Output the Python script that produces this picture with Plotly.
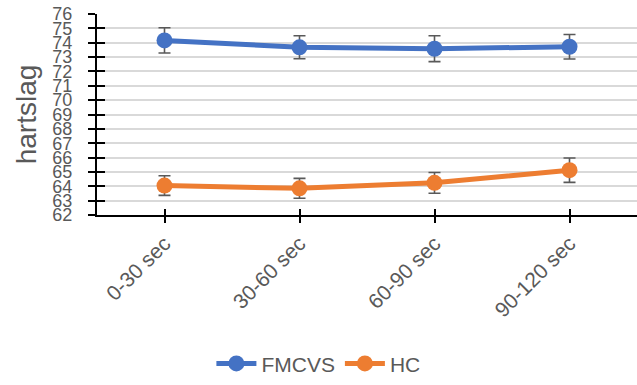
import plotly.graph_objects as go

categories = ["0-30 sec", "30-60 sec", "60-90 sec", "90-120 sec"]
fmcvs = [74.16, 73.68, 73.58, 73.72]
fmcvs_err = [0.88, 0.80, 0.90, 0.85]
hc = [64.05, 63.86, 64.24, 65.12]
hc_err = [0.68, 0.69, 0.72, 0.85]
y_ticks = list(range(62, 77))

BLUE = "#4472C4"
ORANGE = "#ED7D31"
GRAY = "#595959"
FONT = "Liberation Sans"

fig = go.Figure()

for name, vals, errs, col in [("FMCVS", fmcvs, fmcvs_err, BLUE), ("HC", hc, hc_err, ORANGE)]:
    fig.add_trace(go.Scatter(
        x=categories, y=vals, name=name, mode="lines+markers",
        line=dict(color=col, width=5),
        marker=dict(color=col, size=16),
        error_y=dict(type="data", array=errs, visible=True, color=GRAY, thickness=1.6, width=6),
    ))

# invisible trace for the overlay axes (inner half of crossing ticks)
fig.add_trace(go.Scatter(x=categories, y=fmcvs, xaxis="x2", yaxis="y2",
                         mode="markers", marker=dict(opacity=0), showlegend=False, hoverinfo="skip"))

fig.update_layout(
    width=637, height=385,
    margin=dict(l=97, r=0, t=14, b=166),
    paper_bgcolor="white", plot_bgcolor="white",
    font=dict(family=FONT, color=GRAY),
    showlegend=True,
    legend=dict(orientation="h", xanchor="center", x=0.41, yanchor="middle", y=-0.74,
                font=dict(size=21, color=GRAY), itemwidth=40),
    xaxis=dict(type="category", range=[-0.5, 3.5], showline=True, linecolor="black", linewidth=2,
               ticks="outside", ticklen=6, tickwidth=2, tickcolor="black",
               tickangle=-45, tickfont=dict(size=21, color=GRAY), showgrid=False, zeroline=False),
    yaxis=dict(range=[62, 76], tickmode="array", tickvals=y_ticks, showline=True, linecolor="black",
               linewidth=2, ticks="outside", ticklen=7, tickwidth=2, tickcolor="black",
               tickfont=dict(size=18, color=GRAY), ticklabelstandoff=12,
               showgrid=True, gridcolor="#D9D9D9", gridwidth=1.5, zeroline=False,
               title=dict(text="hartslag", font=dict(size=28, color=GRAY), standoff=8)),
    xaxis2=dict(type="category", range=[-0.5, 3.5], overlaying="x", showline=False,
                ticks="inside", ticklen=6, tickwidth=2, tickcolor="black",
                showticklabels=False, showgrid=False, zeroline=False),
    yaxis2=dict(range=[62, 76], tickmode="array", tickvals=y_ticks, overlaying="y", showline=False,
                ticks="inside", ticklen=8, tickwidth=2, tickcolor="black",
                showticklabels=False, showgrid=False, zeroline=False),
)

fig.write_html("out.html")
